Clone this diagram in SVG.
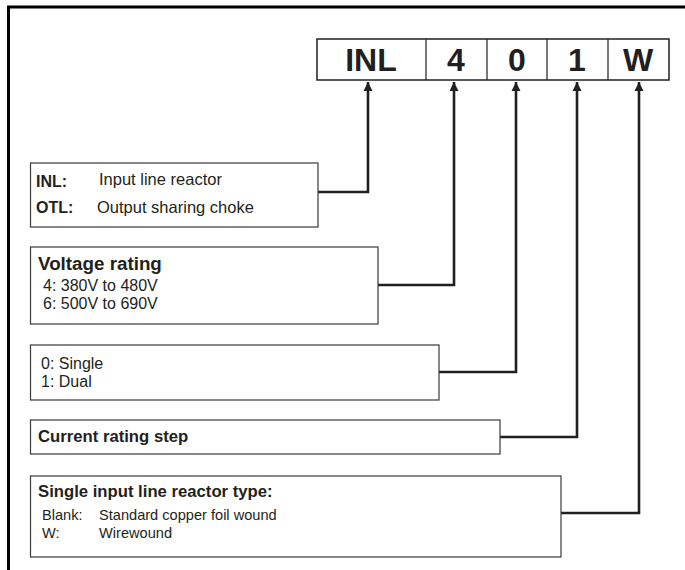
<svg xmlns="http://www.w3.org/2000/svg" width="685" height="570" viewBox="0 0 685 570">
<style>
.frame{fill:none;stroke:#000;stroke-width:3}
.box{fill:#fff;stroke:#3a3a3a;stroke-width:1.2}
.cbox{fill:#fff;stroke:#231f20;stroke-width:1.5}
.conn{fill:none;stroke:#231f20;stroke-width:2.6}
.code{font-family:"Liberation Sans",Arial,sans-serif;font-weight:bold;font-size:32px;fill:#231f20;text-anchor:middle}
.t{font-family:"Liberation Sans",Arial,sans-serif;font-size:16px;fill:#231f20}
.b{font-family:"Liberation Sans",Arial,sans-serif;font-weight:bold;font-size:16.7px;fill:#231f20}
</style>
<defs>
<marker id="ah" viewBox="0 0 10 10" refX="10" refY="5" markerWidth="3.6" markerHeight="3.6" orient="auto" markerUnits="strokeWidth">
<path d="M0,0 L10,5 L0,10 z" fill="#231f20"/>
</marker>
</defs>
<rect width="685" height="570" fill="#fff"/>
<path class="frame" d="M685,7 H8.5 V570"/>
<g id="code">
<rect class="cbox" x="317" y="39" width="352" height="41"/>
<path d="M426,39 V80 M487,39 V80 M547,39 V80 M608,39 V80" stroke="#231f20" stroke-width="1.2"/>
<text class="code" x="371" y="71">INL</text>
<text class="code" x="456" y="71">4</text>
<text class="code" x="517" y="71">0</text>
<text class="code" x="577" y="71">1</text>
<text class="code" x="638" y="71">W</text>
</g>
<g id="connectors">
<path class="conn" d="M318,192 H368 V82" marker-end="url(#ah)"/>
<path class="conn" d="M378,285 H454 V82" marker-end="url(#ah)"/>
<path class="conn" d="M439,372 H516 V82" marker-end="url(#ah)"/>
<path class="conn" d="M500,437 H577 V82" marker-end="url(#ah)"/>
<path class="conn" d="M561,513 H639 V82" marker-end="url(#ah)"/>
</g>
<g id="box-inl">
<rect class="box" x="30.5" y="163" width="287.5" height="64"/>
<text class="b" x="36" y="187" style="font-size:16px">INL:</text>
<text class="t" x="99" y="185" style="font-size:16.5px">Input line reactor</text>
<text class="b" x="36" y="213" style="font-size:16px">OTL:</text>
<text class="t" x="97" y="213" style="font-size:16.5px">Output sharing choke</text>
</g>
<g id="box-voltage">
<rect class="box" x="30.5" y="247" width="347.5" height="77"/>
<text class="b" x="38" y="270" style="font-size:18.8px">Voltage rating</text>
<text class="t" x="43" y="291">4: 380V to 480V</text>
<text class="t" x="43" y="309">6: 500V to 690V</text>
</g>
<g id="box-single">
<rect class="box" x="30.5" y="345" width="408.5" height="55"/>
<text class="t" x="41" y="369">0: Single</text>
<text class="t" x="41" y="387">1: Dual</text>
</g>
<g id="box-current">
<rect class="box" x="30.5" y="420" width="469.5" height="34"/>
<text class="b" x="38" y="442">Current rating step</text>
</g>
<g id="box-type">
<rect class="box" x="30.5" y="476" width="530.5" height="81"/>
<text class="b" x="38" y="497">Single input line reactor type:</text>
<text class="t" x="42" y="520" style="font-size:14.6px">Blank:</text>
<text class="t" x="99" y="520" style="font-size:14.6px">Standard copper foil wound</text>
<text class="t" x="42" y="538" style="font-size:14.6px">W:</text>
<text class="t" x="99" y="538" style="font-size:14.6px">Wirewound</text>
</g>
</svg>
